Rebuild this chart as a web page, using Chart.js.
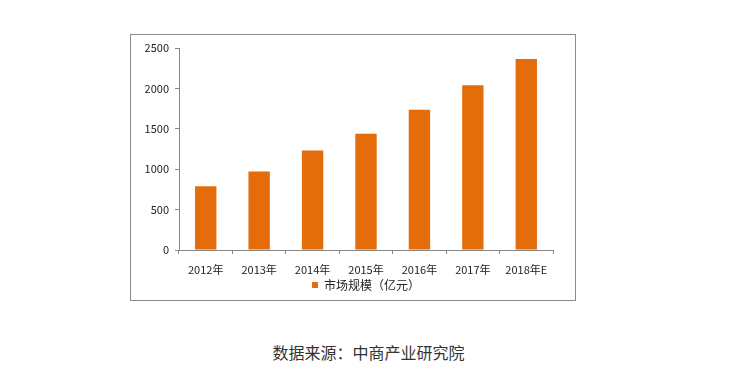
<!DOCTYPE html>
<html>
<head>
<meta charset="utf-8">
<script src="https://cdn.jsdelivr.net/npm/chart.js@4.4.1/dist/chart.umd.min.js"></script>
<style>
  html, body { margin: 0; padding: 0; background: #fff; width: 737px; height: 383px; overflow: hidden; }
  #box { position: absolute; left: 130px; top: 34px; width: 444px; height: 265px; border: 1px solid #8c8c8c; }
  #box canvas { display: block; }
  #source { position: absolute; left: 0; width: 737px; top: 341px; text-align: center;
    font-family: "Noto Sans CJK SC", "Noto Sans", sans-serif; font-size: 16px; color: #333; line-height: 22px; }
</style>
</head>
<body>
<div id="box"><canvas id="c" width="444" height="265"></canvas></div>
<div id="source">数据来源：中商产业研究院</div>
<script>
const categories = ["2012年", "2013年", "2014年", "2015年", "2016年", "2017年", "2018年E"];
const marketSize = [790, 970, 1230, 1440, 1735, 2040, 2365];
const seriesName = "市场规模（亿元）";
const yTicks = [0, 500, 1000, 1500, 2000, 2500];

const FONT = "'Noto Sans CJK SC', 'Noto Sans', sans-serif";
const AXIS = "#868686";

new Chart(document.getElementById("c"), {
  type: "bar",
  data: {
    labels: categories,
    datasets: [{
      label: seriesName,
      data: marketSize,
      backgroundColor: "#E46C0A",
      borderWidth: 0,
      categoryPercentage: 1.0,
      barPercentage: 0.4
    }]
  },
  options: {
    responsive: false,
    animation: false,
    devicePixelRatio: 1,
    layout: { padding: { top: 13, right: 22, left: 0, bottom: -1 } },
    plugins: {
      tooltip: { enabled: false },
      legend: {
        position: "bottom",
        fullSize: false,
        labels: {
          boxWidth: 6, boxHeight: 6, padding: 0,
          color: "#222",
          font: { family: FONT, size: 12 }
        }
      }
    },
    scales: {
      x: {
        grid: { display: true, drawOnChartArea: false, drawTicks: true, tickLength: 4, color: AXIS, offset: true },
        border: { display: true, color: AXIS, width: 1 },
        ticks: { color: "#222", font: { family: FONT, size: 11 }, padding: 9, maxRotation: 0, autoSkip: false },
        afterFit: (s) => { s.height = 29; }
      },
      y: {
        min: 0, max: 2500,
        afterBuildTicks: (s) => { s.ticks = yTicks.map(v => ({ value: v })); },
        grid: { display: true, drawOnChartArea: false, drawTicks: true, tickLength: 4, color: AXIS },
        border: { display: true, color: AXIS, width: 1 },
        ticks: { color: "#222", font: { family: FONT, size: 11 }, padding: 6, callback: (v) => String(v) },
        afterFit: (s) => { s.width = 48; }
      }
    }
  }
});
</script>
</body>
</html>
